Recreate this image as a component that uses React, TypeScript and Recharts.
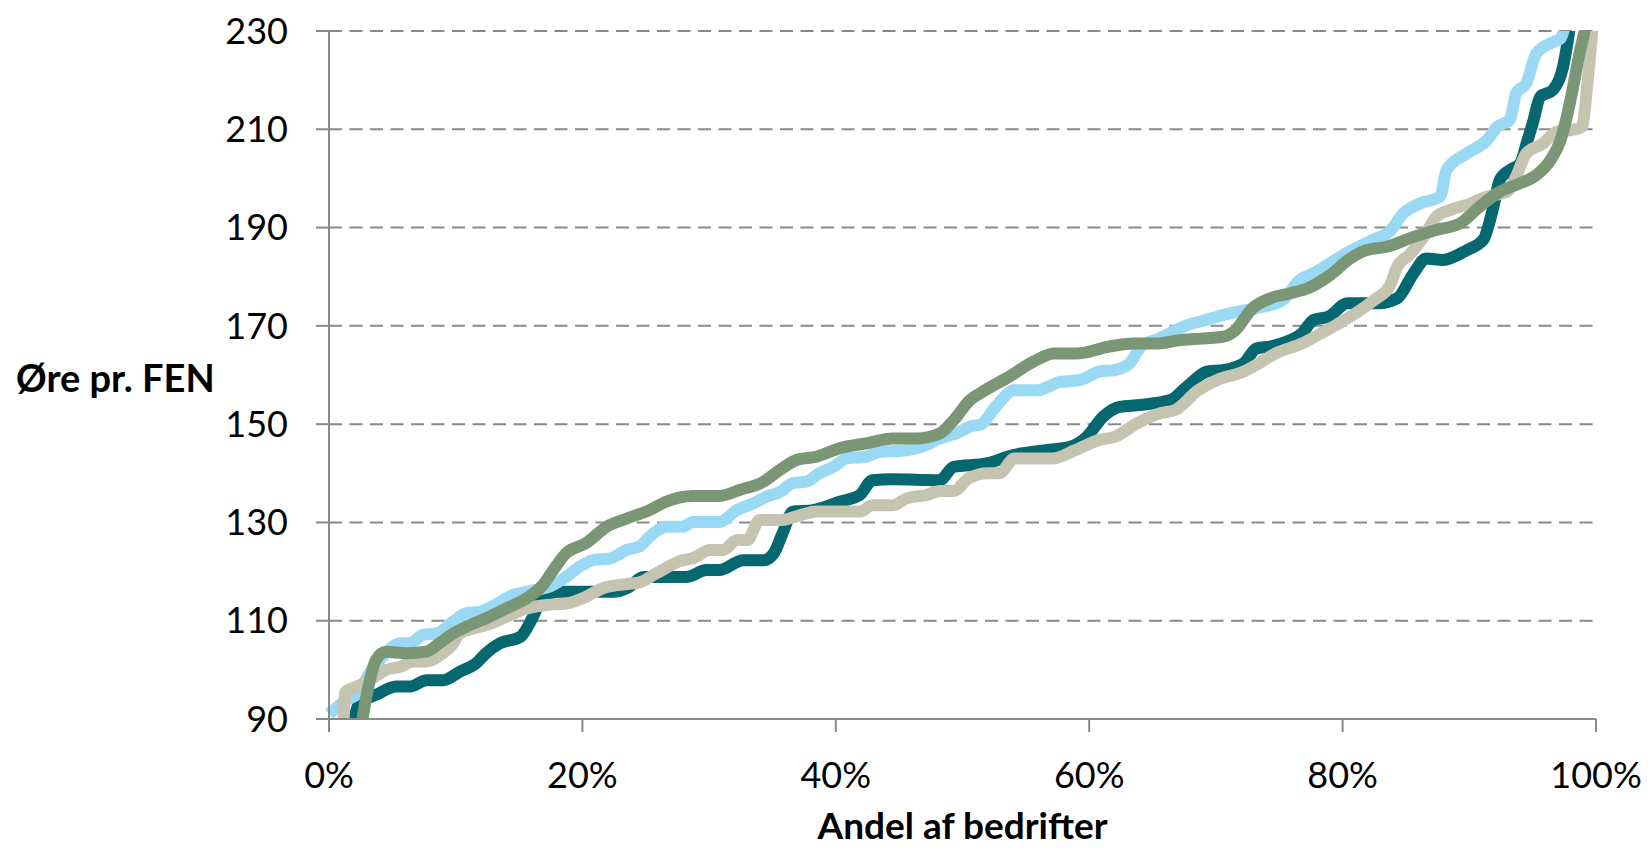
import { LineChart, Line, XAxis, YAxis, CartesianGrid } from 'recharts'

type Pt = [number, number]

// [share of farms in %, øre per FEN]
const tealPoints: Pt[] = [
  [1.7, 86], [2.4, 93.2], [3.7, 94.9], [5.3, 96.6], [6.4, 96.6], [7.7, 97.9], [9.0, 97.9],
  [10.3, 99.6], [11.6, 101.3], [12.4, 103.4], [13.5, 105.4], [15.1, 106.7], [16.1, 110.8],
  [16.9, 114.9], [18.2, 115.9], [20.3, 115.9], [22.4, 115.9], [23.7, 116.9], [24.8, 118.9],
  [28.2, 118.9], [29.8, 120.3], [30.8, 120.3], [32.7, 122.3], [34.3, 122.3], [35.1, 123.7],
  [35.8, 127.8], [36.6, 132.2], [38.2, 132.5], [40.3, 134.2], [41.9, 135.6], [42.9, 138.6],
  [44.5, 138.8], [48.2, 138.6], [49.3, 141.3], [51.9, 142], [54.0, 143.7], [56.6, 144.7],
  [58.5, 145.4], [59.8, 147.4], [61.1, 151.5], [62.4, 153.5], [64.0, 153.9], [66.4, 154.9],
  [67.7, 157.6], [69.3, 160.7], [70.6, 161], [72.2, 162.4], [73.2, 165.4], [74.3, 165.8],
  [75.6, 166.8], [76.8, 168.5], [77.7, 171.2], [78.9, 171.9], [80.4, 174.6], [82.8, 174.6],
  [84.3, 175.6], [85.6, 180.7], [86.6, 183.7], [87.9, 183.4], [89.8, 185.4], [91.1, 187.5],
  [91.9, 194.2], [92.4, 199.7], [93.2, 201.7], [94.0, 203], [94.6, 207.8], [95.0, 211.2],
  [95.6, 216.6], [96.6, 218], [97.4, 222.7], [97.9, 230.2], [98.4, 240],
]

const bluePoints: Pt[] = [
  [0, 91], [1.4, 93.9], [2.2, 95], [3.2, 99.3], [4.5, 103.4], [5.6, 105.4], [6.4, 105.4],
  [7.4, 107.1], [8.5, 107.4], [9.8, 109.8], [10.8, 111.5], [11.9, 111.8], [12.9, 112.9],
  [14.5, 115.2], [15.6, 115.9], [17.7, 117.3], [18.7, 118.9], [19.8, 121], [20.8, 122.3],
  [22.2, 122.7], [23.5, 124.4], [24.5, 125.1], [25.3, 127.1], [26.6, 129.1], [27.9, 129.1],
  [28.7, 130.1], [30.8, 130.1], [32.2, 132.5], [33.5, 133.9], [34.5, 135.2], [35.6, 136.2],
  [36.6, 138], [37.7, 138.3], [38.7, 140], [39.8, 141.3], [40.8, 143], [42.4, 143.4],
  [43.5, 144.4], [45.6, 144.7], [47.2, 145.8], [48.2, 147.1], [49.5, 148.1], [50.6, 149.5],
  [51.5, 150], [52.6, 153.5], [54.1, 156.9], [55.9, 156.9], [57.7, 158.6], [59.3, 159],
  [60.8, 160.7], [62.0, 161], [63.2, 162.4], [64.1, 165.8], [65.6, 167.5], [67.4, 169.8],
  [69.2, 171.2], [71.0, 172.5], [73.2, 173.6], [75.3, 175.3], [76.6, 179.3], [77.7, 180.7],
  [79.0, 182.7], [80.3, 184.8], [82.4, 187.5], [83.7, 189.2], [84.8, 192.9], [86.1, 194.9],
  [87.7, 196.3], [88.2, 201.7], [89.8, 205.1], [91.4, 207.8], [92.2, 210.5], [93.2, 211.9],
  [93.7, 217.3], [94.5, 219.4], [95.3, 225.5], [96.4, 227.5], [97.2, 228.5], [97.6, 232],
  [98, 240],
]

const beigePoints: Pt[] = [
  [1.1, 86], [1.3, 95.5], [2.2, 96.6], [3.2, 97.9], [4.5, 100], [5.6, 100.6], [6.6, 101.7],
  [7.7, 101.7], [9.0, 103.4], [9.8, 105.4], [10.3, 107.4], [11.4, 108.4], [12.4, 109.1],
  [14.0, 110.8], [15.6, 112.5], [17.2, 113.2], [18.7, 113.5], [20.3, 114.9], [21.6, 116.6],
  [22.9, 117.3], [24.5, 117.8], [25.8, 119.6], [27.9, 122.3], [28.7, 122.7], [30.1, 124.4],
  [31.1, 124.4], [32.2, 126.4], [33.0, 126.4], [34.0, 130.5], [35.8, 130.5], [37.2, 131.5],
  [38.5, 132.2], [41.9, 132.2], [42.9, 133.5], [44.5, 133.5], [45.6, 134.9], [47.2, 135.6],
  [48.2, 136.4], [49.3, 136.4], [50.5, 139], [52.0, 140], [52.9, 140], [54.1, 143],
  [57.1, 143], [58.9, 144.7], [60.8, 146.8], [62.0, 147.4], [63.8, 150.2], [65.6, 152.2],
  [66.8, 152.9], [68.6, 156.9], [70.1, 159], [72.2, 160.7], [73.4, 162.4], [74.7, 164.4],
  [76.8, 166.4], [78.3, 168.5], [79.5, 170.2], [81.0, 172.5], [82.5, 175.3], [83.7, 178],
  [84.3, 182], [85.3, 184.5], [86.4, 188.1], [87.4, 192.2], [88.5, 193.6], [89.8, 194.6],
  [91.4, 196.3], [93.0, 197.3], [93.7, 200.4], [94.5, 205.1], [95.8, 207.1], [96.9, 209.5],
  [98.2, 209.9], [98.9, 210.5], [99.3, 218.7], [99.7, 230], [100, 240],
]

const greenPoints: Pt[] = [
  [2.4, 86], [3.0, 95.2], [3.7, 102], [4.5, 103.7], [6.1, 103.4], [7.7, 103.7], [8.7, 105.4],
  [9.8, 107.4], [11.1, 109.1], [12.4, 110.5], [14.0, 112.5], [15.8, 114.9], [16.9, 117.3],
  [17.7, 120.3], [18.7, 123.7], [20.3, 125.8], [21.9, 129.1], [23.5, 130.8], [25.3, 132.5],
  [26.6, 134.2], [28.7, 135.4], [30.8, 135.4], [32.4, 136.6], [34.3, 138.3], [35.6, 140.7],
  [36.9, 142.7], [38.5, 143.4], [40.3, 145.1], [42.4, 146.1], [44.5, 147.1], [46.4, 147.1],
  [48.2, 148.1], [49.3, 150.8], [50.6, 154.9], [51.4, 156.3], [53.7, 159.7], [55.6, 162.7],
  [57.2, 164.4], [59.0, 164.4], [61.6, 165.8], [63.5, 166.4], [65.3, 166.4], [67.2, 167.1],
  [70.6, 167.8], [71.4, 168.8], [72.9, 173.6], [74.3, 175.6], [75.8, 176.6], [77.2, 177.6],
  [79.0, 180.3], [80.6, 183.7], [81.9, 185.4], [83.5, 186.1], [85.6, 188.1], [87.4, 189.5],
  [89.3, 190.9], [90.8, 194.2], [92.4, 197.3], [94.0, 199], [95.3, 200.7], [96.4, 203.7],
  [97.2, 207.8], [97.7, 212.6], [98.2, 218.7], [98.7, 225.5], [99.1, 230.2], [99.5, 238],
]

const xTicks = [0, 20, 40, 60, 80, 100]
const yTicks = [90, 110, 130, 150, 170, 190, 210, 230]

const series = [
  { key: 'teal', color: '#05676F', points: tealPoints },
  { key: 'blue', color: '#99D9F4', points: bluePoints },
  { key: 'beige', color: '#C5C4B0', points: beigePoints },
  { key: 'green', color: '#7B9674', points: greenPoints },
]

const toRows = (pts: Pt[]) => pts.map(([p, v]) => ({ p, v }))

const axisColor = '#898989'
const font = 'Lato, "Open Sans", sans-serif'

export default function App() {
  return (
    <div
      style={{
        position: 'absolute',
        left: 0,
        top: 0,
        width: 1648,
        height: 850,
        background: '#fff',
        fontFamily: font,
      }}
    >
      <LineChart width={1648} height={850} margin={{ top: 31, right: 52, bottom: 71, left: 0 }}>
        <CartesianGrid
          vertical={false}
          stroke={axisColor}
          strokeWidth={2}
          strokeDasharray="13 7.5"
        />
        <XAxis
          type="number"
          dataKey="p"
          domain={[0, 100]}
          ticks={xTicks}
          tickFormatter={(v: number) => `${v}%`}
          height={60}
          tickSize={13}
          tickMargin={30}
          axisLine={{ stroke: axisColor, strokeWidth: 2 }}
          tickLine={{ stroke: axisColor, strokeWidth: 2 }}
          tick={{ fill: '#000', fontSize: 36, fontFamily: font }}
        />
        <YAxis
          type="number"
          domain={[90, 230]}
          allowDataOverflow
          ticks={yTicks}
          width={329}
          tickSize={13}
          tickMargin={28}
          axisLine={{ stroke: axisColor, strokeWidth: 2 }}
          tickLine={{ stroke: axisColor, strokeWidth: 2 }}
          tick={{ fill: '#000', fontSize: 36, fontFamily: font }}
        />
        {series.map((s) => (
          <Line
            key={s.key}
            data={toRows(s.points)}
            dataKey="v"
            type="monotone"
            stroke={s.color}
            strokeWidth={12}
            dot={false}
            activeDot={false}
            isAnimationActive={false}
          />
        ))}
      </LineChart>
      <div
        style={{
          position: 'absolute',
          left: 16,
          top: 358,
          fontSize: 38,
          lineHeight: '38px',
          fontWeight: 700,
          color: '#000',
          whiteSpace: 'nowrap',
        }}
      >
        Øre pr. FEN
      </div>
      <div
        style={{
          position: 'absolute',
          left: 329,
          width: 1267,
          top: 812,
          fontSize: 37,
          lineHeight: '26px',
          fontWeight: 700,
          color: '#000',
          textAlign: 'center',
          whiteSpace: 'nowrap',
        }}
      >
        Andel af bedrifter
      </div>
    </div>
  )
}
